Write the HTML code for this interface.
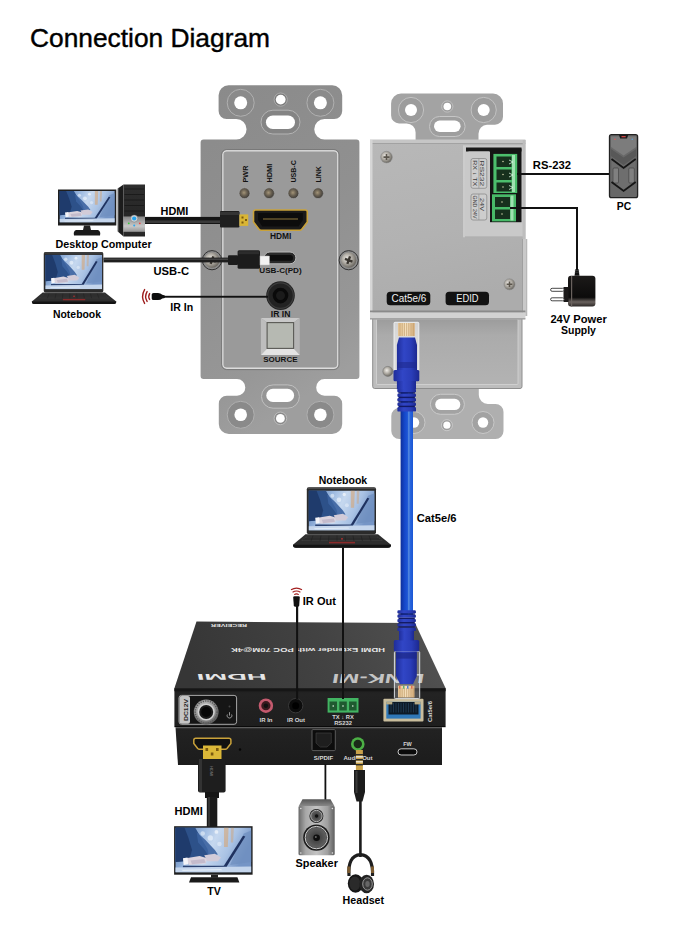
<!DOCTYPE html>
<html><head><meta charset="utf-8">
<style>
html,body{margin:0;padding:0;background:#fff;}
#w{position:relative;width:680px;height:934px;overflow:hidden;background:#fff;}
svg{position:absolute;left:0;top:0;}
text{font-family:"Liberation Sans",sans-serif;}
.lb{font-size:11px;font-weight:bold;fill:#000;}
</style></head><body><div id="w">
<svg width="680" height="934" viewBox="0 0 680 934">
<defs>
  <linearGradient id="plateL" x1="0" y1="0" x2="0.3" y2="1">
    <stop offset="0" stop-color="#8a8a8a"/><stop offset="0.5" stop-color="#909090"/><stop offset="0.85" stop-color="#979797"/><stop offset="1" stop-color="#9e9e9e"/>
  </linearGradient>
  <linearGradient id="tabR" x1="0" y1="0" x2="1" y2="0">
    <stop offset="0" stop-color="#a2a2a2"/><stop offset="1" stop-color="#a8a8a8"/>
  </linearGradient>
  <linearGradient id="boxR" x1="0" y1="0" x2="0.2" y2="1">
    <stop offset="0" stop-color="#b8b8b8"/><stop offset="0.6" stop-color="#b2b2b2"/><stop offset="1" stop-color="#acacac"/>
  </linearGradient>
  <linearGradient id="cable" x1="0" y1="0" x2="1" y2="0">
    <stop offset="0" stop-color="#0e2f98"/><stop offset="0.3" stop-color="#1446c8"/><stop offset="0.55" stop-color="#1d55d5"/><stop offset="0.66" stop-color="#5a8fe0"/><stop offset="0.76" stop-color="#2a66dd"/><stop offset="1" stop-color="#1a56d4"/>
  </linearGradient>
  <linearGradient id="scr" x1="0" y1="0" x2="1" y2="0.3">
    <stop offset="0" stop-color="#4a6fa8"/><stop offset="0.35" stop-color="#9ab8e0"/><stop offset="0.55" stop-color="#c6d8ef"/><stop offset="0.78" stop-color="#a9c2e4"/><stop offset="1" stop-color="#7595c6"/>
  </linearGradient>
  <linearGradient id="boxTop" x1="0" y1="0" x2="0" y2="1">
    <stop offset="0" stop-color="#444"/><stop offset="1" stop-color="#3a3a3a"/>
  </linearGradient>
</defs>

<symbol id="screen" viewBox="0 0 100 60" preserveAspectRatio="none">
  <rect width="100" height="60" fill="url(#scr)"/>
  <path d="M0,0 L26,0 Q34,14 42,28 Q46,36 40,42 L28,44 L0,46 Z" fill="#2d5189"/>
  <path d="M0,0 L12,0 Q18,14 22,30 L18,44 L0,46 Z" fill="#1f3b6c"/>
  <path d="M28,6 Q40,16 52,30 L56,36 L44,38 Q38,28 30,20 Z" fill="#3c63a0" opacity="0.9"/>
  <circle cx="36" cy="8" r="3" fill="#f0f6fc" opacity="0.55"/>
  <circle cx="46" cy="14" r="3.5" fill="#f4f8fd" opacity="0.6"/>
  <circle cx="54" cy="6" r="2.5" fill="#ffffff" opacity="0.6"/>
  <circle cx="58" cy="22" r="3" fill="#eef4fb" opacity="0.5"/>
  <path d="M64,0 L70,0 L69,26 L64,26 Z" fill="#d9a36c" opacity="0.55"/>
  <path d="M73,0 L77,0 L76,20 L73,20 Z" fill="#d49a62" opacity="0.4"/>
  <path d="M90,8 L100,4 L100,46 L72,50 Z" fill="#6f8fbf" opacity="0.75"/>
  <path d="M14,41 L32,38 L42,41 L40,48 L18,50 Z" fill="#dcd4de"/>
  <path d="M20,44 L38,42 L40,47 L22,49 Z" fill="#b9b0c4" opacity="0.7"/>
  <path d="M38,37 L52,35 L60,40 L56,45 L42,45 Z" fill="#d2cbd8"/>
  <path d="M10,41 L16,40 L17,49 L11,50 Z" fill="#f4f4f8"/>
  <path d="M63,52.5 L89,11 L92,12 L67,53 Z" fill="#1f3260"/>
  <path d="M10,51 L67,51 L67,53.5 L10,53.5 Z" fill="#2c4372"/>
  <path d="M0,53.5 L100,52 L100,60 L0,60 Z" fill="#c4d5ec"/>
  <path d="M8,56.5 L60,55.5 L62,57 L10,58 Z" fill="#e8f0f8" opacity="0.8"/>
</symbol>
<symbol id="laptop" viewBox="0 0 98 61" overflow="visible">
  <rect x="13.8" y="0" width="69.2" height="47" rx="2" fill="#2b2b2b"/>
  <rect x="14.5" y="0.5" width="67.8" height="1.2" fill="#4a4a4a"/>
  <use href="#screen" x="15.6" y="3.2" width="66" height="40"/>
  <path d="M12.5,47 L85,47 L98,57.5 Q98,60.5 95,60.5 L3,60.5 Q0,60.5 0,57.5 Z" fill="#2e2e2e"/>
  <path d="M14,48.3 L83.5,48.3 L90,53.8 L8,53.8 Z" fill="#3c3c3c"/>
  <path d="M13.5,49.6 L84,49.6 M11.5,51 L86,51 M10,52.4 L88,52.4" stroke="#1c1c1c" stroke-width="0.6"/>
  <path d="M20,48.3 L18,53.8 M28,48.3 L27,53.8 M36,48.3 L35.5,53.8 M44,48.3 L44,53.8 M52,48.3 L52.5,53.8 M60,48.3 L61,53.8 M68,48.3 L69.5,53.8 M76,48.3 L78,53.8" stroke="#1c1c1c" stroke-width="0.5"/>
  <circle cx="49" cy="51.5" r="0.9" fill="#c03030"/>
  <rect x="36" y="54.5" width="26" height="1.6" fill="#8a2a2a"/>
  <path d="M0,57.5 L98,57.5 L98,58 Q98,60.5 95,60.5 L3,60.5 Q0,60.5 0,58 Z" fill="#141414"/>
</symbol>

<!-- Title -->
<text x="30" y="46.8" style="font-size:25.3px" fill="#000" stroke="#000" stroke-width="0.4" textLength="240" lengthAdjust="spacingAndGlyphs">Connection Diagram</text>

<!-- ============ LEFT WALL PLATE ============ -->
<path d="M218.6,95.3 A10,10 0 0 1 228.6,85.3 L332.2,85.3 A10,10 0 0 1 342.2,95.3 L342.2,111 A8,8 0 0 1 334.2,119 L324.5,119 A10.25,10.25 0 0 0 324.5,139.5 L356.4,139.5 A3,3 0 0 1 359.4,142.5 L359.4,376.1 A3,3 0 0 1 356.4,379.1 L324.5,379.1 A8.3,8.3 0 0 0 324.5,395.7 L334.2,395.7 A8,8 0 0 1 342.2,403.7 L342.2,424 A10,10 0 0 1 332.2,434 L228.8,434 A10,10 0 0 1 218.8,424 L218.8,403.7 A8,8 0 0 1 226.8,395.7 L237,395.7 A8.3,8.3 0 0 0 237,379.1 L203.6,379.1 A3,3 0 0 1 200.6,376.1 L200.6,142.5 A3,3 0 0 1 203.6,139.5 L236.3,139.5 A10.25,10.25 0 0 0 236.3,119 L226.6,119 A8,8 0 0 1 218.6,111 Z" fill="url(#plateL)"/>
<!-- holes top -->
<g>
<circle cx="240.7" cy="102.8" r="13.5" fill="#8a8a8a" stroke="#b0b0b0" stroke-width="1"/>
<circle cx="240.7" cy="102.8" r="6.5" fill="#fff"/>
<circle cx="320.4" cy="102.8" r="13.5" fill="#8a8a8a" stroke="#b0b0b0" stroke-width="1"/>
<circle cx="320.4" cy="102.8" r="6.5" fill="#fff"/>
<circle cx="280.7" cy="99.6" r="6.6" fill="#7a7a7a" stroke="#b4b4b4" stroke-width="0.8"/>
<circle cx="280.7" cy="99.6" r="4.9" fill="#fff"/>
<rect x="261" y="110.2" width="39" height="23.8" rx="11.9" fill="#848484" stroke="#b4b4b4" stroke-width="1"/>
<rect x="265.9" y="115.4" width="29.1" height="13.7" rx="6.85" fill="#fff"/>
</g>
<!-- holes bottom -->
<g>
<circle cx="240.7" cy="414.8" r="13.5" fill="#8a8a8a" stroke="#b0b0b0" stroke-width="1"/>
<circle cx="240.7" cy="414.8" r="6.3" fill="#fff"/>
<circle cx="320.4" cy="414.8" r="13.5" fill="#8a8a8a" stroke="#b0b0b0" stroke-width="1"/>
<circle cx="320.4" cy="414.8" r="6.3" fill="#fff"/>
<circle cx="280.4" cy="418.4" r="6.3" fill="#8a8a8a" stroke="#c4c4c4" stroke-width="0.8"/>
<circle cx="280.4" cy="418.4" r="4.4" fill="#fff"/>
<rect x="261.5" y="384.9" width="37.9" height="23.3" rx="11.6" fill="#969696" stroke="#c0c0c0" stroke-width="1"/>
<rect x="266.3" y="388.8" width="27.8" height="13.2" rx="6.6" fill="#fff"/>
</g>
<!-- inner panel -->
<rect x="222.8" y="150.8" width="115" height="217.5" rx="4" fill="#9a9a9a" stroke="#dcdcdc" stroke-width="1.4"/>
<rect x="221.6" y="149.6" width="117.4" height="220" rx="5" fill="none" stroke="#6e6e6e" stroke-width="0.7"/>
<!-- ============ RIGHT WALL PLATE (back) ============ -->
<g>
<!-- top tab -->
<path d="M391.1,103.6 A10,10 0 0 1 401.1,93.6 L493,93.6 A10,10 0 0 1 503,103.6 L503,116.7 A8,8 0 0 1 495,124.7 L487,124.7 A9,9 0 0 0 478.5,133.7 L478.5,145 L415.6,145 L415.6,132.4 A9,9 0 0 0 406.6,123.4 L399.1,123.4 A8,8 0 0 1 391.1,115.4 Z" fill="#a3a3a3"/>
<circle cx="411" cy="110" r="12.6" fill="#9c9c9c" stroke="#c2c2c2" stroke-width="1"/>
<circle cx="411" cy="110" r="6" fill="#fff"/>
<circle cx="483.7" cy="110" r="12.6" fill="#9c9c9c" stroke="#c2c2c2" stroke-width="1"/>
<circle cx="483.7" cy="110" r="6" fill="#fff"/>
<circle cx="447.3" cy="106.5" r="5.6" fill="#9a9a9a" stroke="#c8c8c8" stroke-width="0.8"/>
<circle cx="447.3" cy="106.5" r="3.8" fill="#fff"/>
<rect x="429.5" y="116.5" width="35.6" height="20" rx="10" fill="#9e9e9e" stroke="#c6c6c6" stroke-width="1"/>
<rect x="434" y="120.6" width="26.6" height="11.4" rx="5.7" fill="#fff"/>
<!-- bottom tab -->
<path d="M405,388 L478.8,388 L478.8,395 A9,9 0 0 0 487.8,404 L495.5,404 A8,8 0 0 1 503.5,412 L503.5,431 A8,8 0 0 1 495.5,439 L399.3,439 A8,8 0 0 1 391.3,431 L391.3,416 A8,8 0 0 1 399.3,408 L405,408 Z" fill="#afafaf"/>
<circle cx="414" cy="422.5" r="11" fill="#a2a2a2" stroke="#c8c8c8" stroke-width="1"/>
<circle cx="414" cy="422.5" r="5.2" fill="#fff"/>
<circle cx="483" cy="422.5" r="11" fill="#a2a2a2" stroke="#c8c8c8" stroke-width="1"/>
<circle cx="483" cy="422.5" r="5.2" fill="#fff"/>
<circle cx="446.9" cy="425.2" r="5.5" fill="#9d9d9d" stroke="#d0d0d0" stroke-width="0.8"/>
<circle cx="446.9" cy="425.2" r="3.6" fill="#fff"/>
<rect x="430.4" y="394.3" width="34" height="20" rx="10" fill="#a3a3a3" stroke="#cacaca" stroke-width="1"/>
<rect x="435.2" y="398.8" width="25.1" height="11.3" rx="5.6" fill="#fff"/>
<!-- lower section -->
<defs><linearGradient id="tray" x1="0" y1="0" x2="0" y2="1"><stop offset="0" stop-color="#9c9c9c"/><stop offset="0.25" stop-color="#ababab"/><stop offset="1" stop-color="#b3b3b3"/></linearGradient></defs>
<rect x="372.7" y="317" width="149.3" height="71.5" rx="2" fill="#bdbdbd" stroke="#8e8e8e" stroke-width="1"/>
<rect x="376.5" y="319" width="141.5" height="65.5" rx="1" fill="url(#tray)" stroke="#d4d4d4" stroke-width="0.8"/>
<circle cx="387.8" cy="371.4" r="5" fill="url(#screw)" stroke="#777" stroke-width="0.6"/>
<!-- main box -->
<rect x="370" y="140" width="155.4" height="173" fill="url(#boxR)"/>
<rect x="370" y="139.5" width="155.4" height="3.8" fill="#c6c6c6"/><rect x="370" y="143.1" width="155.4" height="0.8" fill="#9c9c9c"/>
<rect x="370" y="140" width="2.5" height="173" fill="#d6d6d6"/>
<rect x="522.7" y="140" width="2.8" height="99" fill="#bdbdbd"/><rect x="522.7" y="239" width="4.3" height="77" fill="#c9c9c9"/><rect x="522.2" y="239" width="0.8" height="76" fill="#9a9a9a"/><rect x="526.6" y="239" width="0.6" height="77" fill="#a0a0a0"/>
<!-- lip -->
<rect x="370" y="310.5" width="155.4" height="2" fill="#8a8a8a"/>
<rect x="370" y="312.5" width="155.4" height="6.5" fill="#d2d2d2"/>
<rect x="370" y="318.2" width="155.4" height="1.3" fill="#9a9a9a"/>
<!-- terminal area -->
<rect x="465" y="145.3" width="57.7" height="92" fill="#c9c9c9"/><rect x="463.2" y="145.3" width="1.6" height="92" fill="#d2d2d2"/><rect x="465" y="236.5" width="57.7" height="1" fill="#a8a8a8"/>
<rect x="466" y="147.5" width="55.5" height="4" fill="#1a1a1a"/>
<rect x="490" y="148.6" width="31.5" height="73.6" fill="#141414"/>
<rect x="468.5" y="151.5" width="20.5" height="72" fill="#c9c9c9"/>
<rect x="471" y="158.5" width="15.8" height="29.8" rx="2" fill="#cdcdcd" stroke="#8a8a8a" stroke-width="0.8"/>
<rect x="471" y="194" width="15.8" height="26" rx="2" fill="#cdcdcd" stroke="#8a8a8a" stroke-width="0.8"/>
<line x1="478.9" y1="158.5" x2="478.9" y2="188.3" stroke="#8a8a8a" stroke-width="0.6"/>
<line x1="478.9" y1="194" x2="478.9" y2="220" stroke="#8a8a8a" stroke-width="0.6"/>
<g style="font-size:5.6px" fill="#3a3a3a">
<text transform="translate(480.2,160.3) rotate(90)" textLength="26" lengthAdjust="spacingAndGlyphs">RS232</text>
<text transform="translate(472.8,160.3) rotate(90)" textLength="26" lengthAdjust="spacingAndGlyphs">RX ↓ TX</text>
<text transform="translate(480.2,198) rotate(90)" textLength="13" lengthAdjust="spacingAndGlyphs">24V</text>
<text transform="translate(472.8,195.5) rotate(90)" textLength="23" lengthAdjust="spacingAndGlyphs">GND 24V</text>
</g>
<!-- green terminals -->
<rect x="493.4" y="153.9" width="23.8" height="39.1" fill="#4cbe6c"/>
<rect x="496.5" y="156.5" width="15" height="10.5" fill="#17301d"/>
<rect x="496.5" y="169.5" width="15" height="10.5" fill="#17301d"/>
<rect x="496.5" y="182.5" width="15" height="9" fill="#17301d"/>
<rect x="492" y="194.3" width="24" height="27.1" fill="#48ba68"/>
<rect x="495" y="197" width="15" height="10" fill="#17301d"/>
<rect x="495" y="209.5" width="15" height="9.5" fill="#17301d"/>
<g fill="#9fe0b0"><rect x="512" y="155" width="3" height="37"/><rect x="510.5" y="195.5" width="3" height="25"/></g><g fill="none" stroke="#d8f4e0" stroke-width="0.8"><path d="M509,160 L513,162 L509,164"/><path d="M509,173 L513,175 L509,177"/><path d="M509,185.5 L513,187.5 L509,189.5"/></g>
<g fill="#c8c8a0"><circle cx="503" cy="161.5" r="0.8"/><circle cx="503" cy="174.5" r="0.8"/><circle cx="503" cy="187" r="0.8"/><circle cx="502" cy="202" r="0.8"/><circle cx="502" cy="214" r="0.8"/></g>
<!-- screws -->
<circle cx="386.5" cy="157.1" r="5.8" fill="url(#screw)" stroke="#888" stroke-width="0.6"/>
<path d="M383.5,156.3 h6 v1.6 h-6z M385.7,154.1 h1.6 v6 h-1.6z" fill="#5a554c"/>
<circle cx="509.5" cy="284.3" r="5.5" fill="url(#screw)" stroke="#888" stroke-width="0.6"/>
<path d="M506.7,283.5 h5.6 v1.6 h-5.6z M508.7,281.5 h1.6 v5.6 h-1.6z" fill="#5a554c"/>
<!-- badges -->
<rect x="386.7" y="291.7" width="43.6" height="13.6" rx="3.5" fill="#121212"/>
<rect x="445.6" y="291.7" width="43.4" height="13.6" rx="3.5" fill="#121212"/>
<text x="391.5" y="302.1" style="font-size:10.3px" fill="#eee" textLength="34.7" lengthAdjust="spacingAndGlyphs">Cat5e/6</text>
<text x="456.2" y="302.1" style="font-size:10.3px" fill="#eee" textLength="22.3" lengthAdjust="spacingAndGlyphs">EDID</text>
</g>

<!-- LED labels -->
<g style="font-size:8px;font-weight:bold" fill="#111">
<text transform="translate(247.5,182.6) rotate(-90)" textLength="17" lengthAdjust="spacingAndGlyphs">PWR</text>
<text transform="translate(272,182.6) rotate(-90)" textLength="18.8" lengthAdjust="spacingAndGlyphs">HDMI</text>
<text transform="translate(296.3,182.6) rotate(-90)" textLength="22.4" lengthAdjust="spacingAndGlyphs">USB-C</text>
<text transform="translate(321,182.6) rotate(-90)" textLength="16.4" lengthAdjust="spacingAndGlyphs">LINK</text>
</g>
<!-- LEDs -->
<defs><radialGradient id="led" cx="0.45" cy="0.45" r="0.6"><stop offset="0" stop-color="#a39478"/><stop offset="0.45" stop-color="#6a6152"/><stop offset="0.8" stop-color="#48443e"/><stop offset="1" stop-color="#2e2e2e"/></radialGradient></defs>
<g stroke="#a8a8a8" stroke-width="0.6">
<circle cx="244.5" cy="193.2" r="5.4" fill="url(#led)"/>
<circle cx="269" cy="193.2" r="5.4" fill="url(#led)"/>
<circle cx="293.4" cy="193.2" r="5.4" fill="url(#led)"/>
<circle cx="318" cy="193.2" r="5.4" fill="url(#led)"/>
</g>
<!-- HDMI port -->
<path d="M255.5,210 L305.3,210 Q307.3,210 307.3,212 L307.3,222 L302,229 Q301,230.3 299.5,230.3 L261.3,230.3 Q259.8,230.3 258.8,229 L253.5,222 L253.5,212 Q253.5,210 255.5,210 Z" fill="#1a1a1a" stroke="#c9a23a" stroke-width="1.6"/>
<path d="M258,213 L302.8,213 L302.8,220 L298.5,226.5 L262.3,226.5 L258,220 Z" fill="#0c0c0c"/>
<rect x="263" y="218.3" width="35" height="1.4" fill="#6b5a30"/>
<text x="280.7" y="239.1" text-anchor="middle" style="font-size:8.4px;font-weight:bold" fill="#111">HDMI</text>
<!-- USB-C port -->
<rect x="264" y="252" width="31.9" height="11.8" rx="5.9" fill="#2a2a2a" stroke="#b9b9b9" stroke-width="1"/>
<rect x="267" y="255" width="26" height="5.8" rx="2.9" fill="#0d0d0d"/>
<text x="280.5" y="273.1" text-anchor="middle" style="font-size:8.1px;font-weight:bold" fill="#111">USB-C(PD)</text>
<!-- IR IN jack -->
<circle cx="280.5" cy="295.6" r="14.3" fill="#222"/>
<circle cx="280.5" cy="295.6" r="12.8" fill="none" stroke="#3c3c3c" stroke-width="1.2"/>
<circle cx="280.5" cy="295.6" r="7.8" fill="#0a0a0a"/>
<circle cx="280.5" cy="295.6" r="4.5" fill="#1b1b1b"/>
<text x="280.6" y="316.8" text-anchor="middle" style="font-size:8.6px;font-weight:bold" fill="#111">IR IN</text>
<!-- SOURCE button -->
<path d="M260.9,318 L299.8,318 L293.6,322.6 L267.1,322.6 Z" fill="#c9c9c9"/>
<path d="M260.9,318 L267.1,322.6 L267.1,348.4 L260.9,355 Z" fill="#bdbdbd"/>
<path d="M299.8,318 L293.6,322.6 L293.6,348.4 L299.8,355 Z" fill="#b4b4b4"/>
<path d="M260.9,355 L267.1,348.4 L293.6,348.4 L299.8,355 Z" fill="#e4e4e4"/>
<rect x="267.1" y="322.6" width="26.5" height="25.8" fill="#b6b9b2" stroke="#5a5a55" stroke-width="1.1"/>
<text x="280.4" y="361.9" text-anchor="middle" style="font-size:8px;font-weight:bold" fill="#111">SOURCE</text>
<!-- screws -->
<defs><radialGradient id="screw" cx="0.4" cy="0.4" r="0.7"><stop offset="0" stop-color="#f0ede8"/><stop offset="0.5" stop-color="#a8a49c"/><stop offset="1" stop-color="#55524c"/></radialGradient></defs>
<circle cx="212" cy="260.2" r="9.6" fill="#8c8c8c" stroke="#333" stroke-width="1"/>
<circle cx="212" cy="260.2" r="7.6" fill="url(#screw)"/>
<path d="M208,259 h8 v2.4 h-8z M210.8,256.2 h2.4 v8 h-2.4z" fill="#3a3630" transform="rotate(20 212 260.2)"/>
<circle cx="348.7" cy="260.2" r="9.6" fill="#8c8c8c" stroke="#333" stroke-width="1"/>
<circle cx="348.7" cy="260.2" r="7.6" fill="url(#screw)"/>
<path d="M344.7,259 h8 v2.4 h-8z M347.5,256.2 h2.4 v8 h-2.4z" fill="#3a3630" transform="rotate(20 348.7 260.2)"/>

<!-- ============ LEFT DEVICES ============ -->
<!-- desktop monitor -->
<rect x="58" y="189.5" width="58.3" height="36" fill="#1e1e1e"/>
<use href="#screen" x="59.5" y="191" width="55.3" height="31.5"/>
<path d="M84,225.5 L90,225.5 L91,230 L83,230 Z" fill="#222"/>
<path d="M76,230 L98,230 Q101,231 100,235.5 L74,235.5 Q73,231 76,230 Z" fill="#1a1a1a"/>
<!-- tower -->
<defs><linearGradient id="tower" x1="0" y1="0" x2="0" y2="1"><stop offset="0" stop-color="#2e2e2e"/><stop offset="0.6" stop-color="#262626"/><stop offset="0.63" stop-color="#8a8a8a"/><stop offset="0.8" stop-color="#c8c8c8"/><stop offset="0.9" stop-color="#9a9a9a"/><stop offset="0.92" stop-color="#2a2a2a"/><stop offset="1" stop-color="#222"/></linearGradient></defs>
<path d="M117.8,188.5 L123.5,184.5 L123.5,236.5 L117.8,231.5 Z" fill="#1c1c1c"/>
<path d="M117.8,188.5 L118.8,187.8 L118.8,232.3 L117.8,231.5 Z" fill="#555"/>
<rect x="123.5" y="184.5" width="21.5" height="52" fill="url(#tower)"/>
<g stroke="#161616" stroke-width="0.8"><line x1="124.5" y1="189" x2="144" y2="189"/><line x1="124.5" y1="194.5" x2="144" y2="194.5"/><line x1="124.5" y1="200" x2="144" y2="200"/><line x1="124.5" y1="205.5" x2="144" y2="205.5"/><line x1="124.5" y1="211" x2="144" y2="211"/></g>
<circle cx="134.2" cy="218.5" r="3.6" fill="#cdd2d6" stroke="#666" stroke-width="0.4"/>
<circle cx="134.2" cy="218.5" r="2.1" fill="#26a4ee"/>
<circle cx="128.8" cy="223.3" r="0.9" fill="#3c3"/><circle cx="139.8" cy="223.3" r="0.9" fill="#e44"/><circle cx="134.2" cy="225.6" r="1" fill="#2aa8f0"/>
<!-- HDMI cable -->
<rect x="145" y="216.9" width="76" height="7.1" fill="#141414"/>
<rect x="145" y="220.4" width="76" height="2.6" fill="#3a3a3a"/>
<rect x="220" y="211" width="19.4" height="16.6" rx="1" fill="#1e1e1e"/>
<rect x="220" y="212" width="19.4" height="3" fill="#333"/>
<rect x="239.4" y="214.4" width="8.8" height="11.5" fill="#d9b534"/>
<rect x="241.5" y="216.5" width="2" height="2" fill="#7a5a10"/><rect x="241.5" y="221.5" width="2" height="2" fill="#7a5a10"/><rect x="245" y="219" width="2" height="2" fill="#7a5a10"/>
<!-- laptop left -->
<use href="#laptop" x="31.7" y="252" width="84.7" height="52.5"/>
<!-- USB-C cable -->
<rect x="103.5" y="257.6" width="129" height="4.8" fill="#1e1e1e"/>
<rect x="103.5" y="258.6" width="129" height="1.2" fill="#4a4a4a"/>
<rect x="228" y="255.2" width="10" height="9.8" rx="1" fill="#1c1c1c"/>
<rect x="237.6" y="250.3" width="22.4" height="18.5" rx="1.5" fill="#1c1c1c"/>
<rect x="238.5" y="251.2" width="20.6" height="3" fill="#2c2c2c"/>
<rect x="260" y="256" width="9.4" height="9" fill="#f2f2f2" stroke="#bbb" stroke-width="0.5"/>
<!-- IR in emitter -->
<rect x="163" y="295.8" width="105" height="1.9" fill="#111"/>
<path d="M151.7,294.6 Q151.7,292.9 153.6,292.9 L158,292.9 Q160.5,293 162.3,294.7 L164.8,295.6 L164.8,297.9 L162.3,298.6 Q160.5,300.1 158,300.1 L153.6,300.1 Q151.7,300.1 151.7,298.4 Z" fill="#0d0d0d"/>
<g fill="none" stroke="#9e1c1c" stroke-width="1.4" stroke-linecap="round">
<path d="M149.6,293.6 Q147.9,296.5 149.6,299.4"/>
<path d="M147.1,291.6 Q144.2,296.5 147.1,301.4"/>
<path d="M144.6,289.6 Q140.6,296.5 144.6,303.4"/>
</g>

<!-- labels left -->
<g class="lb">
<text x="160.5" y="214.9" textLength="27.9" lengthAdjust="spacingAndGlyphs">HDMI</text>
<text x="55.6" y="248.2" textLength="96" lengthAdjust="spacingAndGlyphs">Desktop Computer</text>
<text x="153.5" y="275.2" textLength="35.5" lengthAdjust="spacingAndGlyphs">USB-C</text>
<text x="170.3" y="311.2" textLength="22.9" lengthAdjust="spacingAndGlyphs">IR In</text>
<text x="53" y="318.2" textLength="48" lengthAdjust="spacingAndGlyphs">Notebook</text>
</g>

<!-- ============ RIGHT DEVICES ============ -->
<path d="M517,174 L609,174" stroke="#111" stroke-width="2"/>
<path d="M510,208.1 L577,208.1 L577,269" fill="none" stroke="#111" stroke-width="2"/>
<!-- PC -->
<rect x="609.5" y="134.7" width="28.1" height="63" rx="2" fill="#686868" stroke="#222" stroke-width="1.3"/>
<path d="M611,136.5 L636.2,136.5 L636.2,147 L623.6,155.5 L611,147 Z" fill="#7c7c7c"/>
<path d="M611,149 L623.6,157.5 L636.2,149 L636.2,156 L623.6,165 L611,156 Z" fill="#585858"/>
<path d="M611.5,159 L623.6,168 L635.7,159" fill="none" stroke="#151515" stroke-width="1.8"/>
<path d="M612,161 L623.6,170 L635.2,161 L635.2,181 L623.6,189.5 L612,181 Z" fill="#6e6e6e"/>
<rect x="613" y="168" width="5.5" height="15" rx="1" fill="#808080" stroke="#3a3a3a" stroke-width="0.6"/>
<rect x="628.8" y="168" width="5.5" height="15" rx="1" fill="#808080" stroke="#3a3a3a" stroke-width="0.6"/>
<path d="M611.5,182 L623.6,191 L635.7,182" fill="none" stroke="#151515" stroke-width="1.8"/>
<path d="M619,135 L628.2,135 L627,138.5 L620.2,138.5 Z" fill="#1a1a1a"/>
<rect x="621.5" y="136" width="4.2" height="1.3" fill="#c44"/>
<circle cx="615" cy="139.3" r="0.7" fill="#e55"/><circle cx="632.2" cy="139.3" r="0.7" fill="#5ae"/>
<!-- power supply -->
<path d="M575.5,269 L578.5,269 L579.5,275.7 L574.5,275.7 Z" fill="#111"/>
<g stroke="#555" stroke-width="0.5"><line x1="574.8" y1="270.5" x2="579.2" y2="270.5"/><line x1="574.6" y1="272.3" x2="579.4" y2="272.3"/></g>
<defs><linearGradient id="psu" x1="0" y1="0" x2="0" y2="1"><stop offset="0" stop-color="#1c1a19"/><stop offset="0.7" stop-color="#0c0b0b"/><stop offset="0.85" stop-color="#6a625e"/><stop offset="1" stop-color="#2a2625"/></linearGradient></defs>
<rect x="568" y="275.7" width="27.4" height="30.9" rx="3" fill="url(#psu)"/>
<rect x="571" y="276" width="1.2" height="30.5" fill="#6a625e"/>
<rect x="563.5" y="287" width="5" height="15" fill="#1a1818"/>
<rect x="550.6" y="288.3" width="13.5" height="3" rx="1.5" fill="#fff" stroke="#333" stroke-width="0.9"/>
<rect x="550.6" y="297.8" width="13.5" height="3" rx="1.5" fill="#fff" stroke="#333" stroke-width="0.9"/>
<g class="lb">
<text x="532.8" y="169.4" textLength="38.2" lengthAdjust="spacingAndGlyphs">RS-232</text>
<text x="616.8" y="210.2" textLength="14.4" lengthAdjust="spacingAndGlyphs">PC</text>
<text x="550.4" y="323.2" textLength="56.4" lengthAdjust="spacingAndGlyphs">24V Power</text>
<text x="561" y="333.8" textLength="34.9" lengthAdjust="spacingAndGlyphs">Supply</text>
</g>

<!-- ============ MIDDLE ============ -->
<!-- blue cable -->
<rect x="400.6" y="380" width="12.4" height="235" fill="url(#cable)"/>
<defs>
<linearGradient id="boot" x1="0" y1="0" x2="1" y2="0"><stop offset="0" stop-color="#1f2d9a"/><stop offset="0.35" stop-color="#3146c6"/><stop offset="0.7" stop-color="#2a3db8"/><stop offset="1" stop-color="#1c2890"/></linearGradient>
<linearGradient id="gold" x1="0" y1="0" x2="1" y2="0"><stop offset="0" stop-color="#e2c090"/><stop offset="0.5" stop-color="#f6e2c0"/><stop offset="1" stop-color="#d8b080"/></linearGradient>
</defs>
<!-- upper RJ45 -->
<rect x="394" y="322.3" width="24.8" height="48" rx="1" fill="#ffffff" fill-opacity="0.55" stroke="#f2f4f6" stroke-width="0.9"/>
<rect x="398" y="323" width="16.8" height="13" fill="url(#gold)"/>
<g stroke="#b08850" stroke-width="0.5"><line x1="400" y1="323" x2="400" y2="336"/><line x1="402.2" y1="323" x2="402.2" y2="336"/><line x1="404.4" y1="323" x2="404.4" y2="336"/><line x1="406.6" y1="323" x2="406.6" y2="336"/><line x1="408.8" y1="323" x2="408.8" y2="336"/><line x1="411" y1="323" x2="411" y2="336"/><line x1="413.2" y1="323" x2="413.2" y2="336"/></g>
<path d="M399,337.5 L415,337.5 L417,345 L417,370 L396.9,370 L396.9,345 Z" fill="url(#boot)"/>
<rect x="397" y="362" width="20" height="6" fill="#1e2a8e" opacity="0.6"/>
<rect x="393.5" y="370" width="25.8" height="11.3" rx="1.5" fill="url(#boot)"/>
<rect x="396.9" y="381" width="19.1" height="8.5" fill="url(#boot)"/>
<g fill="url(#boot)"><rect x="397.4" y="389" width="18.6" height="3.4" rx="1.2"/><rect x="397.4" y="393.5" width="18.6" height="3.4" rx="1.2"/><rect x="397.4" y="398" width="18.6" height="3.4" rx="1.2"/><rect x="397.4" y="402.5" width="18.6" height="3.4" rx="1.2"/><rect x="397.4" y="407" width="18.6" height="4.6" rx="1.2"/></g>
<g fill="#121a66"><rect x="398.5" y="392.2" width="16.4" height="1.4"/><rect x="398.5" y="396.7" width="16.4" height="1.4"/><rect x="398.5" y="401.2" width="16.4" height="1.4"/><rect x="398.5" y="405.7" width="16.4" height="1.4"/></g>

<!-- middle notebook -->
<use href="#laptop" x="293" y="487.3" width="98" height="61"/>
<rect x="342" y="547.5" width="2" height="152" fill="#111"/>
<!-- IR out -->
<rect x="296.1" y="606" width="2" height="94" fill="#111"/>
<path d="M293.2,597.5 Q293.2,596.2 294.5,596.2 L298.5,596.2 Q299.8,596.2 299.8,597.5 L299.2,605.5 Q299,606.8 297.6,606.8 L295.4,606.8 Q294,606.8 293.8,605.5 Z" fill="#111"/>
<g fill="none" stroke="#a31f1f" stroke-width="1.1">
<path d="M294.2,594.6 Q296.5,593.2 298.8,594.6"/>
<path d="M292.6,592.2 Q296.5,589.8 300.4,592.2"/>
<path d="M291,589.8 Q296.5,586.4 302,589.8"/>
</g>

<!-- ============ RECEIVER BOX ============ -->
<defs>
<linearGradient id="rtop" gradientUnits="userSpaceOnUse" x1="420" y1="615" x2="200" y2="700"><stop offset="0" stop-color="#505050"/><stop offset="0.45" stop-color="#424242"/><stop offset="1" stop-color="#363636"/></linearGradient>
<linearGradient id="rfront" x1="0" y1="0" x2="0" y2="1"><stop offset="0" stop-color="#1c1c1c"/><stop offset="0.15" stop-color="#232323"/><stop offset="1" stop-color="#1e1e1e"/></linearGradient>
<linearGradient id="rlow" x1="0" y1="0" x2="0" y2="1"><stop offset="0" stop-color="#444"/><stop offset="0.06" stop-color="#222"/><stop offset="1" stop-color="#1c1c1c"/></linearGradient>
</defs>
<path d="M196.5,621.5 L415,623 L445.6,688.2 L174.4,688.2 Z" fill="url(#rtop)"/>
<path d="M174.4,688.2 L445.6,688.2 L445.6,726 L174.4,726 Z" fill="url(#rfront)"/>
<rect x="174.4" y="688.2" width="271.2" height="3" fill="#161616"/>
<path d="M175.5,727.3 L442,727.3 L442,765 L178,765 Z" fill="url(#rlow)"/>
<rect x="174.4" y="726" width="271.2" height="1.2" fill="#0a0a0a"/>
<!-- top face texts (upside-down) -->
<g fill="#e6e6e6">
<text transform="translate(247,624) rotate(180)" style="font-size:4.2px;font-weight:bold" textLength="36" lengthAdjust="spacingAndGlyphs">RECEIVER</text>
<text transform="translate(385,648) rotate(180)" style="font-size:5.5px;font-weight:bold" textLength="154" lengthAdjust="spacingAndGlyphs">HDMI Extender with POC 70M@4K</text>
<text transform="translate(266,673.8) rotate(180) skewX(12)" style="font-size:8.2px;font-weight:bold" textLength="70" lengthAdjust="spacingAndGlyphs">HDMI</text>
<text transform="translate(425,673.8) rotate(180) skewX(-10)" style="font-size:13px;font-weight:bold" fill="#c4c4c4" textLength="92" lengthAdjust="spacingAndGlyphs">LINK-MI</text>
</g>

<!-- front face ports -->
<defs>
<radialGradient id="nut" cx="0.45" cy="0.4" r="0.6"><stop offset="0" stop-color="#d8d8d8"/><stop offset="0.6" stop-color="#a0a0a0"/><stop offset="1" stop-color="#5a5a5a"/></radialGradient>
</defs>
<rect x="179" y="695.4" width="57.6" height="28.9" rx="2.5" fill="#151515" stroke="#a8a8a8" stroke-width="1"/>
<rect x="179.5" y="695.9" width="10.5" height="27.9" rx="2" fill="#c4c4c4"/>
<text transform="translate(187.6,721) rotate(-90)" style="font-size:6px;font-weight:bold" fill="#222" textLength="22" lengthAdjust="spacingAndGlyphs">DC12V</text>
<circle cx="206.2" cy="712" r="12.4" fill="url(#nut)"/>
<circle cx="206.2" cy="712" r="11" fill="none" stroke="#5a5a5a" stroke-width="1.6" stroke-dasharray="1.2 1.2"/>
<circle cx="206.2" cy="712" r="8.6" fill="#cfcfcf"/>
<circle cx="206.2" cy="712" r="7" fill="#1a1a1a"/>
<circle cx="206.2" cy="712" r="5" fill="#060606"/>
<circle cx="229.5" cy="706.5" r="1" fill="#444"/>
<path d="M227.4,714.5 A2.4,2.4 0 1 0 231.6,714.5 M229.5,712.2 L229.5,715.6" fill="none" stroke="#cfcfcf" stroke-width="0.7"/>
<circle cx="265.9" cy="705.7" r="7.2" fill="#c45a6e"/>
<circle cx="265.9" cy="705.7" r="4.6" fill="#3a1a1e"/>
<circle cx="265.9" cy="705.7" r="2.2" fill="#111"/>
<circle cx="295.7" cy="705.7" r="7.2" fill="#0c0c0c" stroke="#3a3a3a" stroke-width="1"/>
<circle cx="295.7" cy="705.7" r="3.5" fill="#000"/>
<g style="font-size:6px;font-weight:bold" fill="#d8d8d8">
<text x="266" y="722" text-anchor="middle">IR In</text>
<text x="296" y="722" text-anchor="middle">IR Out</text>
<text x="343" y="719.4" text-anchor="middle" style="font-size:5.8px">TX ↓ RX</text>
<text x="343" y="724.6" text-anchor="middle" style="font-size:5.8px">RS232</text>
<text transform="translate(431.5,722) rotate(-90)" style="font-size:5.5px" textLength="21" lengthAdjust="spacingAndGlyphs">Cat5e/6</text>
<text x="407.5" y="746.2" text-anchor="middle" style="font-size:5.5px">FW</text>
<text x="323.5" y="760" text-anchor="middle" style="font-size:6px">S/PDIF</text>
<text x="358" y="760" text-anchor="middle" style="font-size:6px">Audio Out</text>
</g>
<!-- green RS232 terminal -->
<rect x="327.6" y="698" width="30.9" height="14.6" fill="#42b462"/>
<g fill="#1f5a30"><rect x="329.5" y="701.5" width="7.5" height="9"/><rect x="339.3" y="701.5" width="7.5" height="9"/><rect x="349.1" y="701.5" width="7.5" height="9"/></g>
<g fill="#e8f5e8"><circle cx="333.2" cy="706" r="0.8"/><circle cx="343" cy="706" r="0.8"/><circle cx="352.8" cy="706" r="0.8"/></g>
<!-- RJ45 port -->
<rect x="383.4" y="698.8" width="40.1" height="22.7" rx="1" fill="#c9bd9c"/>
<rect x="386.3" y="701.8" width="34.3" height="16.8" fill="#2f78b8"/>
<rect x="388.5" y="702" width="30" height="12.5" fill="#0e1a26"/>
<g stroke="#2a4a66" stroke-width="0.6"><line x1="391" y1="703" x2="391" y2="712.5"/><line x1="393.5" y1="703" x2="393.5" y2="712.5"/><line x1="396" y1="703" x2="396" y2="712.5"/><line x1="398.5" y1="703" x2="398.5" y2="712.5"/><line x1="401" y1="703" x2="401" y2="712.5"/><line x1="403.5" y1="703" x2="403.5" y2="712.5"/><line x1="406" y1="703" x2="406" y2="712.5"/><line x1="408.5" y1="703" x2="408.5" y2="712.5"/><line x1="411" y1="703" x2="411" y2="712.5"/><line x1="413.5" y1="703" x2="413.5" y2="712.5"/><line x1="416" y1="703" x2="416" y2="712.5"/></g>
<rect x="386.3" y="701.8" width="6" height="2.6" fill="#b8ab86"/><rect x="414.6" y="701.8" width="6" height="2.6" fill="#b8ab86"/>
<!-- lower section ports -->
<path d="M195.8,738.3 L228.9,738.3 Q230.9,738.3 230.9,740.3 L230.9,743.5 L227,748.5 Q226.3,749.2 225.3,749.2 L199.4,749.2 Q198.4,749.2 197.7,748.5 L193.8,743.5 L193.8,740.3 Q193.8,738.3 195.8,738.3 Z" fill="#111" stroke="#c9a23a" stroke-width="1.5"/>
<circle cx="240" cy="749.5" r="1.2" fill="#050505"/>
<rect x="312" y="729.6" width="23.3" height="21" rx="1" fill="#0c0c0c" stroke="#5a5a5a" stroke-width="1"/>
<path d="M316,733 L331.3,733 L331.3,743 L327,747 L320.3,747 L316,743 Z" fill="#1e1e1e" stroke="#444" stroke-width="0.6"/>
<circle cx="357.8" cy="744" r="6.8" fill="#4cb045"/>
<circle cx="357.8" cy="744" r="4.2" fill="#1a2a18"/>
<rect x="398" y="748.8" width="19" height="6.2" rx="3.1" fill="#0a0a0a" stroke="#c8c8c8" stroke-width="1"/>

<!-- lower RJ45 plug at receiver -->
<rect x="394.4" y="651.5" width="25.3" height="47.1" rx="1" fill="#ffffff" fill-opacity="0.22" stroke="#e8ecf0" stroke-width="0.9"/>
<rect x="398" y="685.7" width="16.5" height="11.8" fill="url(#gold)"/>
<g stroke="#b08850" stroke-width="0.5"><line x1="400" y1="688" x2="400" y2="697.5"/><line x1="402.2" y1="688" x2="402.2" y2="697.5"/><line x1="404.4" y1="688" x2="404.4" y2="697.5"/><line x1="406.6" y1="688" x2="406.6" y2="697.5"/><line x1="408.8" y1="688" x2="408.8" y2="697.5"/><line x1="411" y1="688" x2="411" y2="697.5"/><line x1="413.2" y1="688" x2="413.2" y2="697.5"/></g>
<g><rect x="399" y="685.7" width="1.5" height="3" fill="#e07050"/><rect x="403" y="685.7" width="1.5" height="3" fill="#60b070"/><rect x="407" y="685.7" width="1.5" height="3" fill="#5080d0"/><rect x="411" y="685.7" width="1.5" height="3" fill="#e07050"/></g>
<path d="M396,651.5 L416.8,651.5 L416.8,676 L413,684 L400,684 L396,676 Z" fill="url(#boot)"/>
<rect x="396" y="652.7" width="20.8" height="5.9" fill="#1c2888" opacity="0.7"/>
<rect x="393.8" y="640" width="25.4" height="11.5" rx="1.5" fill="url(#boot)"/>
<rect x="399" y="631" width="15" height="9.5" fill="url(#boot)"/>
<g fill="url(#boot)"><rect x="397.4" y="610.3" width="18.5" height="3.2" rx="1.2"/><rect x="397.4" y="614.6" width="18.5" height="3.2" rx="1.2"/><rect x="397.4" y="618.9" width="18.5" height="3.2" rx="1.2"/><rect x="397.4" y="623.2" width="18.5" height="3.2" rx="1.2"/><rect x="397.4" y="627.5" width="18.5" height="3.6" rx="1.2"/></g>
<g fill="#121a66"><rect x="398.5" y="613.4" width="16.3" height="1.3"/><rect x="398.5" y="617.7" width="16.3" height="1.3"/><rect x="398.5" y="622" width="16.3" height="1.3"/><rect x="398.5" y="626.3" width="16.3" height="1.3"/></g>

<!-- cables over box top -->
<rect x="342" y="600" width="2" height="99" fill="#111"/>
<rect x="296.1" y="606" width="2" height="93" fill="#111"/>

<!-- ============ BOTTOM DEVICES ============ -->
<!-- HDMI plug & cable to TV -->
<rect x="203" y="745.5" width="18.5" height="14" fill="#dcb838"/>
<rect x="205.5" y="748" width="2.6" height="3" fill="#7a5a10"/><rect x="216" y="748" width="2.6" height="3" fill="#7a5a10"/><rect x="210.8" y="752.5" width="2.6" height="3" fill="#7a5a10"/>
<rect x="198" y="759" width="27.6" height="33.6" rx="2" fill="#1e1e1e"/>
<rect x="199" y="759" width="3" height="33" fill="#333"/>
<text transform="translate(210,766) rotate(90)" style="font-size:4px;font-weight:bold" fill="#666">HDMI</text>
<rect x="205" y="792" width="14" height="6" fill="#151515"/>
<rect x="206.8" y="797" width="10.5" height="30" fill="#1a1a1a"/>
<rect x="208" y="797" width="2" height="30" fill="#333"/>
<!-- TV -->
<rect x="174.1" y="826.2" width="78.5" height="48.5" fill="#1e1e1e"/>
<use href="#screen" x="175.3" y="827.4" width="76.1" height="45"/>
<rect x="211" y="874.7" width="7" height="3" fill="#222"/>
<path d="M191,877.3 L237.4,877.3 L239.4,882.6 L189,882.6 Z" fill="#1a1a1a"/>
<!-- speaker -->
<path d="M324.5,764 L326.3,764 L326.3,800 L324.5,800 Z" fill="#111"/>
<defs>
<linearGradient id="spk" x1="0" y1="0" x2="1" y2="0"><stop offset="0" stop-color="#6a6a6a"/><stop offset="0.2" stop-color="#a8a8a8"/><stop offset="0.5" stop-color="#c4c4c4"/><stop offset="0.8" stop-color="#a0a0a0"/><stop offset="1" stop-color="#5e5e5e"/></linearGradient>
<radialGradient id="cone" cx="0.5" cy="0.5" r="0.5"><stop offset="0" stop-color="#1a1a1a"/><stop offset="0.35" stop-color="#3a3a3a"/><stop offset="0.8" stop-color="#6a6a6a"/><stop offset="1" stop-color="#2a2a2a"/></radialGradient>
</defs>
<defs><linearGradient id="spktop" x1="0" y1="0" x2="0" y2="1"><stop offset="0" stop-color="#555"/><stop offset="1" stop-color="#8c8c8c"/></linearGradient>
<radialGradient id="cone2" cx="0.5" cy="0.5" r="0.5"><stop offset="0" stop-color="#2a2a2a"/><stop offset="0.3" stop-color="#444"/><stop offset="0.85" stop-color="#5e5e5e"/><stop offset="1" stop-color="#3a3a3a"/></radialGradient></defs>
<path d="M302.5,799.2 L330.5,799.2 L334.7,806.5 L298.5,806.5 Z" fill="url(#spktop)"/>
<rect x="298.5" y="806" width="36.2" height="49.3" rx="1.5" fill="url(#spk)"/>
<g fill="#e0e0e0"><circle cx="300.8" cy="808.5" r="0.8"/><circle cx="332.4" cy="808.5" r="0.8"/><circle cx="300.8" cy="853" r="0.8"/><circle cx="332.4" cy="853" r="0.8"/></g>
<circle cx="316.4" cy="816" r="7" fill="#1e1e1e"/>
<circle cx="316.4" cy="816" r="5.7" fill="url(#cone2)" stroke="#cfcfcf" stroke-width="0.8"/>
<circle cx="316.6" cy="816" r="1.7" fill="#111"/>
<circle cx="316.4" cy="837.6" r="13.2" fill="#1c1c1c"/>
<circle cx="316.4" cy="837.6" r="11.2" fill="url(#cone2)" stroke="#d2d2d2" stroke-width="1"/>
<circle cx="316.6" cy="837.8" r="3.3" fill="#0e0e0e"/>
<circle cx="315.8" cy="836.9" r="1" fill="#666"/>
<!-- audio plug & headset -->
<rect x="355.9" y="750" width="7" height="20" fill="#c9a24a"/>
<g fill="#2a2a2a"><rect x="355.9" y="754" width="7" height="1.4"/><rect x="355.9" y="759" width="7" height="1.4"/><rect x="355.9" y="764" width="7" height="1.4"/></g>
<g fill="#e8e0c8"><rect x="355.9" y="756" width="7" height="1.6"/><rect x="355.9" y="761" width="7" height="1.6"/></g>
<path d="M354,770 L365,770 L365,792 L362.5,801.5 L356.5,801.5 L354,792 Z" fill="#1c1c1c"/>
<rect x="355.5" y="771" width="2" height="22" fill="#3a3a3a"/>
<rect x="359.1" y="801" width="2.6" height="56" fill="#1a1a1a"/>
<path d="M349,876 Q347.5,855.5 360.4,854.6 Q373.5,855.5 372.5,876" fill="none" stroke="#1e1e1e" stroke-width="3.2"/>
<rect x="347.3" y="866.5" width="3" height="6.5" fill="#7a5a30"/><rect x="371" y="866.5" width="3" height="6.5" fill="#7a5a30"/>
<ellipse cx="355.6" cy="883.5" rx="7.8" ry="9.2" fill="#161616"/>
<ellipse cx="354.8" cy="883.5" rx="5.5" ry="7" fill="#2a2a2a"/>
<ellipse cx="366.6" cy="884" rx="7.4" ry="9.2" fill="#222"/>
<ellipse cx="367.5" cy="884" rx="4.8" ry="6.2" fill="#3a3a3a" stroke="#b0b0b0" stroke-width="0.8"/>
<ellipse cx="367.5" cy="884" rx="2.2" ry="3" fill="#666"/>
<!-- bottom labels -->
<g class="lb">
<text x="318.7" y="484.1" textLength="48.5" lengthAdjust="spacingAndGlyphs">Notebook</text>
<text x="416.8" y="522" textLength="39.7" lengthAdjust="spacingAndGlyphs">Cat5e/6</text>
<text x="302.8" y="605.2" textLength="33.1" lengthAdjust="spacingAndGlyphs">IR Out</text>
<text x="174.5" y="815" textLength="28.2" lengthAdjust="spacingAndGlyphs">HDMI</text>
<text x="207.3" y="895" textLength="13.6" lengthAdjust="spacingAndGlyphs">TV</text>
<text x="295.5" y="866.8" textLength="42.4" lengthAdjust="spacingAndGlyphs">Speaker</text>
<text x="342.6" y="903.8" textLength="41.5" lengthAdjust="spacingAndGlyphs">Headset</text>
</g>

</svg>
</div></body></html>
